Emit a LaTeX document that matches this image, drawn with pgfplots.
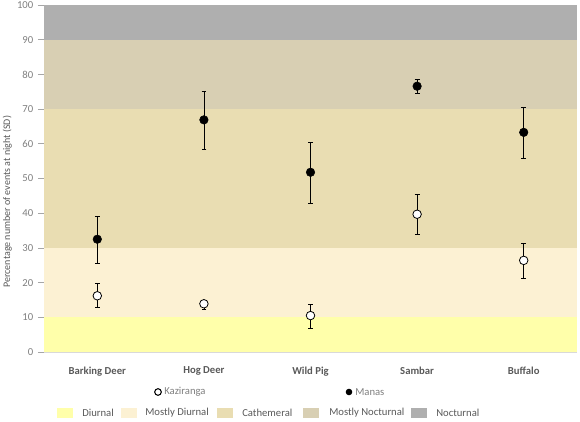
\documentclass[border=0pt]{standalone}
\usepackage{pgfplots}
\pgfplotsset{compat=1.18}
\usepackage{fontspec}
\setmainfont{Carlito}
\definecolor{cDiu}{HTML}{FFFFAA}
\definecolor{cMDiu}{HTML}{FCF1D3}
\definecolor{cCat}{HTML}{E9DDB2}
\definecolor{cMNoc}{HTML}{D8CFB3}
\definecolor{cNoc}{HTML}{AFAFAF}
\definecolor{tgray}{HTML}{7F7F7F}
\definecolor{tdark}{HTML}{595959}
\begin{document}
\begin{tikzpicture}
\begin{axis}[
  width=399.75pt, height=260.25pt, scale only axis,
  xmin=-0.5, xmax=4.5, ymin=0, ymax=100,
  xtick={0,1,2,3,4},
  xticklabels={Barking Deer,Hog Deer,Wild Pig,Sambar,Buffalo},
  ytick={0,10,...,100},
  axis x line=bottom, axis y line=left,
  axis line style={-, draw=black!25, line width=0.6pt},
  x axis line style={draw=black!15},
  xtick style={draw=none},
  ytick style={draw=black!35, line width=0.5pt},
  tick align=outside, major tick length=4.5pt,
  yticklabel style={font=\fontsize{8}{9}\selectfont, text=tgray},
  xticklabel style={font=\fontsize{8}{9}\selectfont\bfseries, text=tdark, yshift=-3pt},
  /pgf/number format/assume math mode=true,
  ylabel={Percentage number of events at night (SD)},
  ylabel style={font=\fontsize{7.5}{9}\selectfont, text=tdark, at={(axis description cs:-0.069,0.433)}, anchor=center},
  clip=false,
]
\addplot[fill=cDiu, draw=none] coordinates {(-0.5,0) (4.5,0) (4.5,10) (-0.5,10)} -- cycle;
\addplot[fill=cMDiu, draw=none] coordinates {(-0.5,10) (4.5,10) (4.5,30) (-0.5,30)} -- cycle;
\addplot[fill=cCat, draw=none] coordinates {(-0.5,30) (4.5,30) (4.5,70) (-0.5,70)} -- cycle;
\addplot[fill=cMNoc, draw=none] coordinates {(-0.5,70) (4.5,70) (4.5,90) (-0.5,90)} -- cycle;
\addplot[fill=cNoc, draw=none] coordinates {(-0.5,90) (4.5,90) (4.5,100) (-0.5,100)} -- cycle;
% Kaziranga
\addplot[only marks, mark=*, mark size=3.2pt, mark options={fill=white, draw=black, line width=0.6pt},
  error bars/.cd, y dir=both, y explicit,
  error bar style={black, line width=0.6pt},
  error mark options={rotate=90, mark size=1.8pt, black, line width=0.6pt}]
coordinates {
 (0,16.2) += (0,3.5) -= (0,3.3)
 (1,13.9) += (0,1.0) -= (0,1.5)
 (2,10.5) += (0,3.3) -= (0,3.7)
 (3,39.7) += (0,5.6) -= (0,5.8)
 (4,26.4) += (0,4.9) -= (0,5.2)
};
% Manas
\addplot[only marks, mark=*, mark size=3.2pt, mark options={fill=black, draw=black},
  error bars/.cd, y dir=both, y explicit,
  error bar style={black, line width=0.6pt},
  error mark options={rotate=90, mark size=1.8pt, black, line width=0.6pt}]
coordinates {
 (0,32.5) += (0,6.5) -= (0,7.0)
 (1,66.9) += (0,8.1) -= (0,8.5)
 (2,51.8) += (0,8.5) -= (0,9.1)
 (3,76.6) += (0,2.1) -= (0,2.2)
 (4,63.3) += (0,7.1) -= (0,7.5)
};
\end{axis}
\begin{scope}[x=0.75pt,y=0.75pt,shift={(-33pt,-51.75pt)}]
% legend row 1
\draw[black, fill=white, line width=0.8pt] (158,29) circle (3.3);
\node[anchor=west, text=tgray, font=\fontsize{8}{9}\selectfont, inner sep=0pt] at (164,29) {Kaziranga};
\fill[black] (349,29) circle (3.3);
\node[anchor=west, text=tgray, font=\fontsize{8}{9}\selectfont, inner sep=0pt] at (355,29) {Manas};
% legend row 2
\fill[cDiu] (57,3) rectangle (73,13);
\node[anchor=west, text=tdark, font=\fontsize{8}{9}\selectfont, inner sep=0pt] at (82,8) {Diurnal};
\fill[cMDiu] (121,3) rectangle (137,13);
\node[anchor=west, text=tdark, font=\fontsize{8}{9}\selectfont, inner sep=0pt] at (145,8) {Mostly Diurnal};
\fill[cCat] (217,3) rectangle (233,13);
\node[anchor=west, text=tdark, font=\fontsize{8}{9}\selectfont, inner sep=0pt] at (242,8) {Cathemeral};
\fill[cMNoc] (303,3) rectangle (319,13);
\node[anchor=west, text=tdark, font=\fontsize{8}{9}\selectfont, inner sep=0pt] at (329,8) {Mostly Nocturnal};
\fill[cNoc] (411,3) rectangle (427,13);
\node[anchor=west, text=tdark, font=\fontsize{8}{9}\selectfont, inner sep=0pt] at (436,8) {Nocturnal};
\pgfresetboundingbox
\useasboundingbox (0,0) rectangle (580,421);
\end{scope}
\end{tikzpicture}
\end{document}
